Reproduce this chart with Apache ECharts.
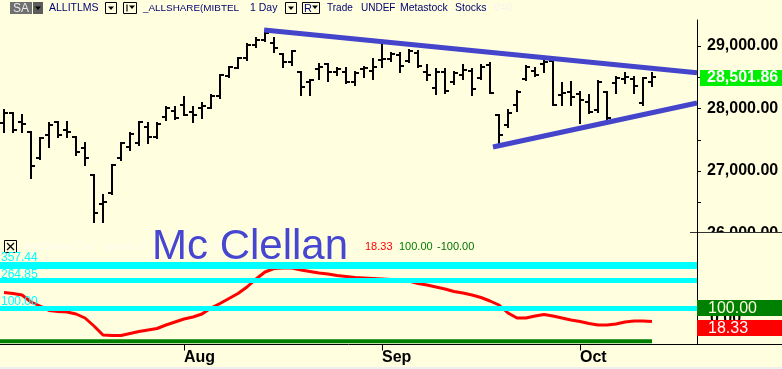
<!DOCTYPE html>
<html>
<head>
<meta charset="utf-8">
<script src="https://cdn.jsdelivr.net/npm/echarts@6/dist/echarts.min.js"></script>
<style>
html,body{margin:0;padding:0;background:#ffffe0;}
#main{width:782px;height:369px;}
</style>
</head>
<body>
<div id="main"></div>
<script>
// ---- data ----
const priceOpen = [
27768,27928,27784,27624,27208,27576,27784,27656,27544,27368,
26936,26472,26648,27208,27384,27448,27704,27544,27864,27960,
28056,27944,28008,28008,28200,28520,28648,28808,29016,29096,
29048,28872,28744,28584,28424,28632,28712,28584,28584,28424,
28632,28600,28776,28792,28856,28760,28888,28584,28328,28584,
28424,28536,28600,28488,28696,27896,27736,28056,28472,28600,
28712,28760,28216,28264,28232,28104,27976,28264,28408,28472,
28472,28088,28424];
const priceHigh = [
27976,27928,27896,27624,27528,27768,27784,27784,27544,27448,
26936,26616,27096,27448,27608,27784,27768,27768,28024,28024,
28184,28024,28088,28216,28536,28664,28808,29032,29128,29224,
29128,28872,28920,28584,28456,28712,28712,28648,28648,28584,
28664,28792,29016,28888,28888,28936,28920,28696,28632,28632,
28584,28696,28632,28696,28728,27896,27976,28280,28680,28648,
28760,28776,28408,28424,28264,28216,28440,28264,28504,28568,
28504,28488,28568];
const priceLow = [
27624,27624,27624,26888,27192,27384,27544,27544,27256,27096,
26184,26184,26632,27176,27336,27416,27448,27528,27816,27832,
27896,27784,27848,28008,28168,28504,28648,28776,28984,29080,
28904,28664,28696,28216,28216,28472,28440,28536,28408,28376,
28504,28472,28664,28760,28584,28744,28664,28456,28232,28248,
28392,28472,28216,28472,28248,27416,27704,27960,28456,28520,
28584,28056,28056,28056,27768,27928,27944,27800,28248,28408,
28248,28056,28360];
const priceClose = [
27928,27656,27752,27080,27528,27736,27576,27624,27304,27208,
26328,26504,27096,27448,27592,27784,27544,27752,28008,27848,
27896,27896,28040,28200,28536,28664,28808,29016,29096,29208,
28968,28744,28920,28344,28456,28664,28584,28632,28424,28568,
28648,28664,28792,28872,28680,28920,28680,28536,28584,28280,
28568,28616,28312,28664,28248,27576,27928,28264,28664,28536,
28744,28056,28248,28184,28136,27944,28424,27848,28488,28504,
28360,28488,28501.86];
const oscValues = [
193,187,178,136,112,85,79,76,64,40,
-8,-62,-65,-65,-53,-41,-32,-23,-2,16,
34,46,64,100,127,157,187,226,274,316,
337,340,340,328,319,310,304,295,289,283,
280,277,274,271,268,262,247,238,226,214,
199,190,178,163,142,118,70,40,40,52,
61,52,40,28,19,7,-2,-2,4,16,
22,22,18.33];
const upperTrend = [[28.9, 29256], [77, 28573]];
const lowerTrend = [[54.33, 27384], [77, 28088]];
const cyanLevels = [357.44, 264.85, 100];
const upperLevel = 100;
const lowerLevel = -100;
const monthTicks = [20, 42, 64];
const monthNames = ['Aug', 'Sep', 'Oct'];
const priceLabels = [26000, 27000, 28000, 29000];
const priceMinorTicks = [26000, 26500, 27000, 27500, 28000, 28500, 29000];

// ---- chart ----
const FONT = "'Liberation Sans', Arial, sans-serif";
const BG = '#ffffe0';
const BLUE = '#4545cc';
const X_MIN = -4 / 9, X_MAX = 77;

function fmt(v) {
  const s = v.toFixed(2);
  const parts = s.split('.');
  return parts[0].replace(/\B(?=(\d{3})+(?!\d))/g, ',') + '.' + parts[1];
}

const chart = echarts.init(document.getElementById('main'), null, {renderer: 'canvas'});

const ohlcData = priceOpen.map((o, i) => [i, o, priceHigh[i], priceLow[i], priceClose[i]]);
const lastIdx = priceClose.length - 1;

chart.setOption({
  animation: false,
  backgroundColor: BG,
  grid: [
    {left: 0, right: 85, top: 20, height: 214},
    {left: 0, right: 85, top: 232, height: 112.5}
  ],
  xAxis: [
    {gridIndex: 0, type: 'value', min: X_MIN, max: X_MAX, show: false},
    {gridIndex: 1, type: 'value', min: X_MIN, max: X_MAX,
     axisLine: {show: true, onZero: false, lineStyle: {color: '#000', width: 1}},
     axisTick: {show: true, customValues: monthTicks, length: 6, lineStyle: {color: '#000'}},
     axisLabel: {show: true, customValues: monthTicks, align: 'left', margin: 5,
       fontFamily: FONT, fontWeight: 'bold', fontSize: 16, color: '#000',
       formatter: v => monthNames[monthTicks.indexOf(Math.round(v))] || ''},
     splitLine: {show: false}}
  ],
  yAxis: [
    {gridIndex: 0, type: 'value', position: 'right', min: 25992, max: 29416,
     axisLine: {show: true, onZero: false, lineStyle: {color: '#000', width: 1}},
     axisTick: {show: true, customValues: priceMinorTicks, length: 4, lineStyle: {color: '#000'}},
     axisLabel: {show: true, customValues: priceLabels, margin: 10, fontFamily: FONT,
       fontWeight: 'bold', fontSize: 16, color: '#000', formatter: v => fmt(v)},
     splitLine: {show: false}},
    {gridIndex: 1, type: 'value', position: 'right', min: -119, max: 556,
     axisLine: {show: true, onZero: false, lineStyle: {color: '#000', width: 1}},
     axisTick: {show: false}, axisLabel: {show: false}, splitLine: {show: false}}
  ],
  series: [
    {
      type: 'custom', xAxisIndex: 0, yAxisIndex: 0, silent: true, z: 3,
      data: ohlcData,
      encode: {x: 0, y: [1, 2, 3, 4]},
      renderItem: function (params, api) {
        const i = api.value(0);
        const o = api.coord([i, api.value(1)]);
        const h = api.coord([i, api.value(2)]);
        const l = api.coord([i, api.value(3)]);
        const c = api.coord([i, api.value(4)]);
        const x = Math.round(h[0]);
        const st = {stroke: '#000', lineWidth: 2};
        return {type: 'group', children: [
          {type: 'line', shape: {x1: x, y1: Math.round(h[1]) - 1, x2: x, y2: Math.round(l[1]) + 1}, style: st},
          {type: 'line', shape: {x1: x - 4, y1: Math.round(o[1]), x2: x, y2: Math.round(o[1])}, style: st},
          {type: 'line', shape: {x1: x, y1: Math.round(c[1]), x2: x + 4, y2: Math.round(c[1])}, style: st}
        ]};
      }
    },
    {type: 'line', xAxisIndex: 0, yAxisIndex: 0, data: upperTrend, symbol: 'none', silent: true, z: 4,
     lineStyle: {color: BLUE, width: 5}},
    {type: 'line', xAxisIndex: 0, yAxisIndex: 0, data: lowerTrend, symbol: 'none', silent: true, z: 4,
     lineStyle: {color: BLUE, width: 5}},
    {type: 'line', xAxisIndex: 1, yAxisIndex: 1, data: oscValues.map((v, i) => [i, v]),
     symbol: 'none', silent: true, z: 2, lineStyle: {color: '#ff0000', width: 3}},
    {type: 'line', xAxisIndex: 1, yAxisIndex: 1,
     data: [[X_MIN, lowerLevel]].concat(oscValues.map((v, i) => [i, lowerLevel])),
     symbol: 'none', silent: true, z: 3, lineStyle: {color: '#008000', width: 4},
     markLine: {silent: true, symbol: 'none', label: {show: false}, animation: false,
       lineStyle: {color: '#00ffff', width: 5, type: 'solid'},
       data: cyanLevels.map((v, k) => ({yAxis: v, lineStyle: {color: '#00ffff', width: k === 0 ? 7 : 5, type: 'solid'}}))}
    }
  ]
});

// ---- overlay texts and boxes ----
const yClose = chart.convertToPixel({yAxisIndex: 0}, priceClose[lastIdx]);
const yUpper = chart.convertToPixel({yAxisIndex: 1}, upperLevel);
const yOsc = chart.convertToPixel({yAxisIndex: 1}, oscValues[lastIdx]);
const yZero = chart.convertToPixel({yAxisIndex: 1}, 0);
const cyanY = cyanLevels.map(v => chart.convertToPixel({yAxisIndex: 1}, v));
const axisX = 697;

const g = [];
function txt(t, x, y, fill, size, extra) {
  g.push(Object.assign({type: 'text', z: 50, style: Object.assign({text: t, x: x, y: y, fill: fill,
    font: (extra && extra.weight ? extra.weight + ' ' : '') + size + 'px ' + FONT,
    verticalAlign: 'middle', align: 'left'}, extra && extra.style ? extra.style : {})}));
}
function box(x, y, w, h, fill, stroke) {
  g.push({type: 'rect', z: 50, shape: {x: x, y: y, width: w, height: h},
    style: {fill: fill || 'none', stroke: stroke || null, lineWidth: 1}});
}
function ln(x1, y1, x2, y2, color, w, z) {
  g.push({type: 'line', z: z || 50, shape: {x1, y1, x2, y2}, style: {stroke: color, lineWidth: w || 1}});
}
function tri(cx, cy, color) {
  g.push({type: 'polygon', z: 51, shape: {points: [[cx - 3, cy - 1.5], [cx + 3, cy - 1.5], [cx, cy + 2]]}, style: {fill: color}});
}

// toolbar
const NAVY = '#00006e';
box(10, 2, 22, 12, '#707070');
txt('SA', 13, 8.5, '#e8e8e8', 12);
box(33, 2, 10, 12, '#5c5c5c');
tri(38, 8, '#000');
txt('ALLITLMS', 49, 8, NAVY, 10.5);
box(105.5, 2.5, 11, 11, 'none', '#000');
tri(111, 8, '#000');
box(123.5, 2.5, 13, 11, 'none', '#000');
ln(127, 4.5, 127, 11.5, '#000', 1.2);
tri(132, 7, '#000');
txt('_ALLSHARE(MIBTEL', 143, 8, NAVY, 9.9);
txt('1 Day', 250, 8, NAVY, 10.5);
box(285.5, 2.5, 11, 11, 'none', '#000');
tri(291, 8, '#000');
box(302.5, 2.5, 17, 11, 'none', '#000');
txt('R', 304, 8.5, NAVY, 11);
tri(315, 7, '#000');
txt('Trade', 327, 8, NAVY, 10);
txt('UNDEF', 361, 8, NAVY, 10);
txt('Metastock', 400, 8, NAVY, 10.5);
txt('Stocks', 455, 8, NAVY, 10.5);
txt('V=0', 493, 8, '#f4f4ee', 10.5);

// panel separator (axis area) and cover for clipped axis label
g.push({type: 'rect', z: 40, shape: {x: axisX + 1, y: 232, width: 85, height: 66}, style: {fill: BG}});
ln(690, 232.5, 782, 232.5, '#333', 1, 41);
ln(axisX + 0.5, 232, axisX + 0.5, 345, '#000', 1, 41);
ln(axisX, 344.5, 782, 344.5, '#000', 1, 41);

// price label box
g.push({type: 'rect', z: 52, shape: {x: axisX + 3, y: Math.round(yClose) - 7, width: 82, height: 16}, style: {fill: '#00ee00'}});
txt(fmt(priceClose[lastIdx]), axisX + 10, Math.round(yClose) + 1, '#ffffff', 16, {weight: 'bold', style: {}});
g[g.length - 1].z = 53;

// lower panel right labels
txt('0.00', 710, Math.round(yZero) - 6, '#000', 16, {weight: 'bold'});
const gTop = Math.round(yUpper) - 8;
g.push({type: 'rect', z: 52, shape: {x: axisX, y: gTop, width: 85, height: 16}, style: {fill: '#008000'}});
txt(fmt(upperLevel), 708, gTop + 8.5, '#ffffe0', 16); g[g.length - 1].z = 53;
const rTop = Math.max(Math.round(yOsc) - 8, gTop + 20);
g.push({type: 'rect', z: 52, shape: {x: axisX, y: rTop, width: 85, height: 16}, style: {fill: '#ff0000'}});
txt(fmt(oscValues[lastIdx]), 708, rTop + 8.5, '#ffffff', 16); g[g.length - 1].z = 53;

// lower panel legend
box(4.5, 240.5, 12, 12, 'none', '#000');
ln(7, 243, 14, 250, '#000', 1.2);
ln(14, 243, 7, 250, '#000', 1.2);
txt('McClellan Osc', 25, 247, '#fbfbf0', 11);
txt('(close of _ALLSHARE(MIBTEL data, 19, 39, 0)', 105, 247, '#fbfbf0', 11);
txt(fmt(oscValues[lastIdx]), 365, 247, '#ff0000', 11);
txt(fmt(upperLevel), 399, 247, '#008000', 11);
txt(fmt(lowerLevel), 437, 247, '#007000', 11);

// cyan level labels
txt(fmt(cyanLevels[0]), 1, cyanY[0] - 7, '#00ffff', 12);
txt(fmt(cyanLevels[1]), 1, cyanY[1] - 6, '#00ffff', 12);
txt(fmt(cyanLevels[2]), 1, cyanY[2] - 6, '#00ffff', 12);

// big annotation
g.push({type: 'text', z: 60, style: {text: 'Mc Clellan', x: 152, y: 247, fill: '#4646d0',
  font: '42px ' + FONT, verticalAlign: 'middle', align: 'left'}});

// bottom strip
g.push({type: 'rect', z: 60, shape: {x: 0, y: 367, width: 782, height: 2}, style: {fill: '#efefef'}});

chart.setOption({graphic: g});
</script>
</body>
</html>
